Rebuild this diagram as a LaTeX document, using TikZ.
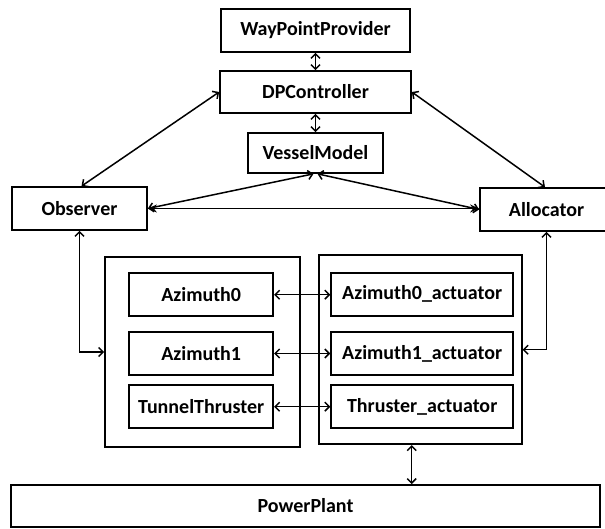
\documentclass[tikz,border=0pt]{standalone}
\usepackage{fontspec}
\setmainfont{Carlito}
\usetikzlibrary{arrows.meta}
\begin{document}
\begin{tikzpicture}[x=1pt,y=-1pt,
  box/.style={draw,line width=1.7pt,inner sep=0pt,
    font=\fontsize{20}{24}\selectfont\bfseries},
  group/.style={draw,line width=1.7pt,inner sep=0pt},
  link/.style={line width=1.5pt,
    {Straight Barb[length=4.5pt,width=9pt]}-{Straight Barb[length=4.5pt,width=9pt]}},
  solidlink/.style={line width=1.5pt,
    {Stealth[length=9pt,width=8pt]}-{Stealth[length=9pt,width=8pt]}}
]
\useasboundingbox (0,0) rectangle (605,529);

% control chain
\node[box,minimum width=189pt,minimum height=43pt] (wpp) at (315.5,30.5) {WayPointProvider};
\node[box,minimum width=191pt,minimum height=42pt] (dpc) at (315.5,92) {DPController};
\node[box,minimum width=135pt,minimum height=40pt] (vm) at (315.5,153) {VesselModel};
\node[box,minimum width=135pt,minimum height=43pt] (obs) at (79.5,208.5) {Observer};
\node[box,minimum width=133pt,minimum height=43pt] (alloc) at (546.5,209.5) {Allocator};

% thruster groups
\node[group,minimum width=195pt,minimum height=190pt] (leftgrp) at (202.5,352) {};
\node[group,minimum width=203pt,minimum height=189pt] (rightgrp) at (420.2,349.7) {};

\node[box,minimum width=144pt,minimum height=43pt] (az0) at (201.2,294.7) {Azimuth0};
\node[box,minimum width=144pt,minimum height=43pt] (az1) at (201.2,353.5) {Azimuth1};
\node[box,minimum width=144pt,minimum height=43pt] (tt) at (201.2,406.7) {TunnelThruster};

\node[box,minimum width=182pt,minimum height=43pt] (az0a) at (422.2,294.2) {Azimuth0\_actuator};
\node[box,minimum width=182pt,minimum height=43pt] (az1a) at (422.2,353.8) {Azimuth1\_actuator};
\node[box,minimum width=182pt,minimum height=43pt] (tha) at (422.2,406.7) {Thruster\_actuator};

\node[box,minimum width=589pt,minimum height=42pt] (pp) at (305.5,506) {PowerPlant};

% connectors
\draw[link] (wpp.south) -- (dpc.north);
\draw[link] (dpc.south) -- (vm.north);
\draw[link] (dpc.west) -- ([xshift=2pt]obs.north);
\draw[link] (dpc.east) -- ([xshift=-1.5pt]alloc.north);
\draw[link] ([xshift=-2pt]vm.south) -- (obs.east);
\draw[link] ([xshift=2pt]vm.south) -- (alloc.west);
\draw[solidlink] (obs.east) -- (obs.east -| alloc.west);

\draw[link] (obs.south) |- (leftgrp.west);
\draw[link] (alloc.south) |- (rightgrp.east);

\draw[link] (az0.east) -- (az0.east -| az0a.west);
\draw[link] (az1.east) -- (az1.east -| az1a.west);
\draw[link] (tt.east) -- (tt.east -| tha.west);

\coordinate (ppx) at (411.7,0);
\draw[link] (rightgrp.south -| ppx) -- (pp.north -| ppx);
\end{tikzpicture}
\end{document}
